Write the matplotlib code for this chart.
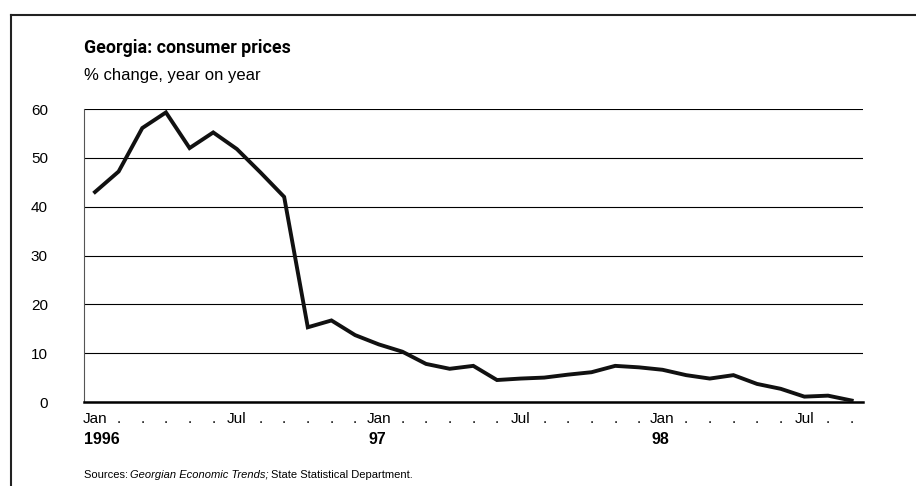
import matplotlib
matplotlib.use('Agg')
import matplotlib.pyplot as plt
from matplotlib.lines import Line2D
import matplotlib.transforms as mtransforms

# monthly data, Jan 1996 - Sep 1998
months = ['Jan', '.', '.', '.', '.', '.', 'Jul', '.', '.', '.', '.', '.'] * 2 + \
         ['Jan', '.', '.', '.', '.', '.', 'Jul', '.', '.']
years = ['1996', '97', '98']
cpi = [43.0, 47.2, 56.1, 59.3, 52.0, 55.2, 51.8, 47.0, 42.0, 15.3, 16.7, 13.7,
       11.8, 10.3, 7.8, 6.8, 7.4, 4.5, 4.8, 5.0, 5.6, 6.1, 7.4, 7.1,
       6.6, 5.5, 4.8, 5.5, 3.7, 2.7, 1.1, 1.3, 0.3]
yticks = [0, 10, 20, 30, 40, 50, 60]

plt.rcParams['font.family'] = ['Liberation Sans', 'DejaVu Sans']

fig = plt.figure(figsize=(9.16, 4.86), dpi=100)
ax = fig.add_axes([84/916, 1-402/486, (863-84)/916, (402-109)/486])

x = list(range(len(cpi)))
ax.plot(x, cpi, color='#111111', lw=2.8, solid_joinstyle='miter', zorder=3)

ax.set_xlim(-0.465, 32.48)
ax.set_ylim(0, 60)
ax.set_yticks(yticks)
ax.set_yticklabels([str(v) for v in yticks], fontsize=11)
ax.yaxis.grid(True, color='black', lw=0.8)
ax.set_axisbelow(True)
ax.tick_params(axis='y', length=0, pad=26)
ax.set_xticks(x)
ax.set_xticklabels(months, fontsize=11)
ax.tick_params(axis='x', length=0, pad=7)

for s in ['top', 'right']:
    ax.spines[s].set_visible(False)
ax.spines['left'].set_color('#555555')
ax.spines['left'].set_linewidth(0.8)
ax.spines['bottom'].set_linewidth(1.8)

trans = mtransforms.blended_transform_factory(ax.transData, fig.transFigure)
for i, yl in enumerate(years):
    ax.text(i*12 - 0.45, 1-444/486, yl, transform=trans, fontsize=11.5,
            fontweight='bold', ha='left', va='baseline')

fig.text(84/916, 1-53/486, 'Georgia: consumer prices', fontsize=12.8,
         fontweight='bold', ha='left', va='baseline',
         family=['Roboto', 'Liberation Sans'])
fig.text(84/916, 1-80/486, '% change, year on year', fontsize=12,
         ha='left', va='baseline')

# source line, pieces placed one after another
renderer = fig.canvas.get_renderer()
xpos = 84
for txt, st in [('Sources: ', 'normal'), ('Georgian Economic Trends; ', 'italic'),
                ('State Statistical Department.', 'normal')]:
    t = fig.text(xpos/916, 1-478/486, txt, fontsize=8, style=st,
                 ha='left', va='baseline')
    bb = t.get_window_extent(renderer)
    xpos = bb.x1 - 1

# outer frame
fig.add_artist(Line2D([11/916, 11/916], [0, 1-15/486], color='#222222', lw=1.5,
                      transform=fig.transFigure))
fig.add_artist(Line2D([11/916, 1], [1-15/486, 1-15/486], color='#222222', lw=1.5,
                      transform=fig.transFigure))

fig.savefig('out.png', dpi=100)
